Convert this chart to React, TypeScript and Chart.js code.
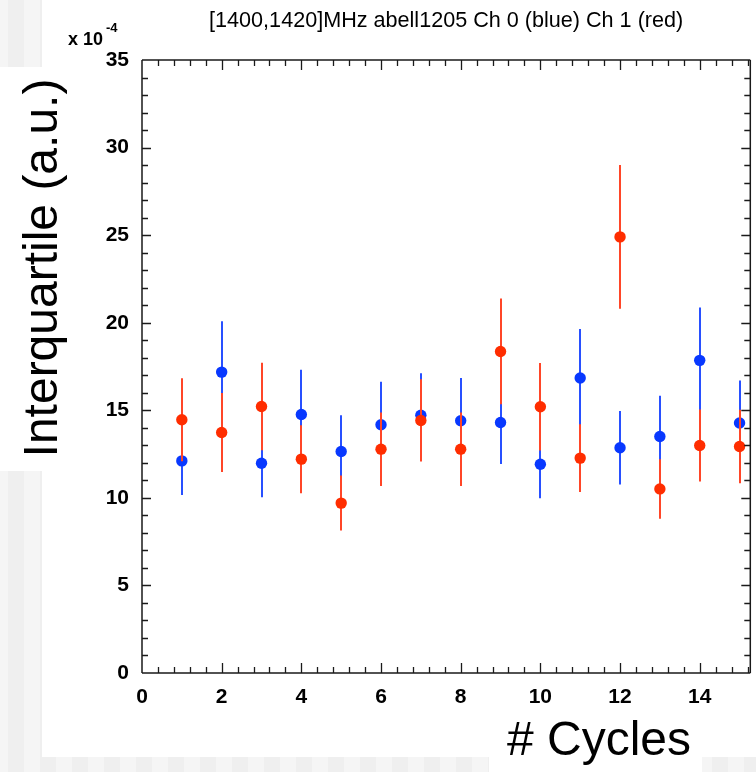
import React, { useEffect, useRef } from "react";
import { Chart, registerables } from "chart.js";

Chart.register(...registerables);

// ---------------- data ----------------
const TITLE = "[1400,1420]MHz abell1205 Ch 0 (blue) Ch 1 (red)";
const X_LABEL = "# Cycles";
const Y_LABEL = "Interquartile (a.u.)";
const Y_EXPONENT_BASE = "x 10";
const Y_EXPONENT_POWER = "-4";

const cycles = [1, 2, 3, 4, 5, 6, 7, 8, 9, 10, 11, 12, 13, 14, 15];

// Ch 0 (blue), units of 1e-4
const ch0Values = [12.11, 17.18, 11.98, 14.76, 12.65, 14.17, 14.72, 14.4, 14.3, 11.92, 16.84, 12.86, 13.5, 17.85, 14.27];
const ch0Errors = [1.94, 2.9, 1.94, 2.55, 2.07, 2.46, 2.4, 2.44, 2.36, 1.94, 2.8, 2.1, 2.33, 3.02, 2.43];

// Ch 1 (red), units of 1e-4
const ch1Values = [14.46, 13.73, 15.22, 12.21, 9.7, 12.78, 14.42, 12.78, 18.36, 15.2, 12.27, 24.9, 10.51, 12.99, 12.93];
const ch1Errors = [2.37, 2.25, 2.5, 1.94, 1.57, 2.1, 2.35, 2.1, 3.02, 2.5, 1.93, 4.1, 1.7, 2.05, 2.1];

const X_MIN = 0;
const X_MAX = 15.27;
const Y_MIN = 0;
const Y_MAX = 35;
const X_MAJOR = 2;
const X_MINOR = 0.4;
const Y_MAJOR = 5;
const Y_MINOR = 1;

const BLUE = "rgb(8,56,255)";
const BLUE_BAR = "rgb(40,80,255)";
const RED = "rgb(255,45,0)";
const RED_BAR = "rgb(255,70,40)";

const FONT = "'Liberation Sans', Arial, Helvetica, sans-serif";

const decorPlugin = {
  id: "decor",
  beforeDraw(chart: any) {
    const ctx = chart.ctx as CanvasRenderingContext2D;
    const W = chart.width;
    const H = chart.height;
    ctx.save();
    ctx.fillStyle = "#ffffff";
    ctx.fillRect(0, 0, W, H);
    const regions = [
      [0, 0, 42, 67],
      [0, 471, 42, H - 471],
      [0, 757, 489, H - 757],
      [702, 757, W - 702, H - 757],
    ];
    for (const [rx, ry, rw, rh] of regions) {
      for (let x = rx; x < rx + rw; x++) {
        const band = Math.floor((x + 8) / 16) % 2;
        ctx.fillStyle = band ? "#efefef" : "#f5f5f5";
        ctx.fillRect(x, ry, 1, rh);
      }
    }
    ctx.restore();
  },
  beforeDatasetDraw(chart: any, args: any) {
    const ds = chart.data.datasets[args.index];
    const errs: number[] = ds.errors;
    if (!errs) return;
    const xs = chart.scales.x;
    const ys = chart.scales.y;
    const ctx = chart.ctx as CanvasRenderingContext2D;
    ctx.save();
    ctx.strokeStyle = ds.barColor;
    ctx.lineWidth = 2;
    ds.data.forEach((p: any, i: number) => {
      const px = Math.round(xs.getPixelForValue(p.x));
      const y1 = ys.getPixelForValue(p.y + errs[i]);
      const y2 = ys.getPixelForValue(p.y - errs[i]);
      ctx.beginPath();
      ctx.moveTo(px, y1);
      ctx.lineTo(px, y2);
      ctx.stroke();
    });
    ctx.restore();
  },
  afterDatasetsDraw(chart: any) {
    const ctx = chart.ctx as CanvasRenderingContext2D;
    const { left, right, top, bottom } = chart.chartArea;
    const xs = chart.scales.x;
    const ys = chart.scales.y;
    ctx.save();
    ctx.strokeStyle = "#1a1a1a";
    ctx.lineWidth = 1.5;
    ctx.beginPath();
    ctx.moveTo(left, top);
    ctx.lineTo(right, top);
    ctx.moveTo(left, top);
    ctx.lineTo(left, bottom);
    ctx.moveTo(left, bottom);
    ctx.lineTo(right, bottom);
    ctx.moveTo(right, top);
    ctx.lineTo(right, bottom);
    ctx.stroke();

    ctx.lineWidth = 1.3;
    ctx.beginPath();
    // x ticks
    const nx = Math.floor((X_MAX - X_MIN) / X_MINOR + 1e-6);
    for (let k = 1; k <= nx; k++) {
      const v = X_MIN + k * X_MINOR;
      const major = Math.abs(v / X_MAJOR - Math.round(v / X_MAJOR)) < 1e-6;
      const len = major ? 10 : 6;
      const px = Math.round(xs.getPixelForValue(v)) + 0.5;
      ctx.moveTo(px, bottom);
      ctx.lineTo(px, bottom - len);
      ctx.moveTo(px, top);
      ctx.lineTo(px, top + len);
    }
    // y ticks
    const ny = Math.round((Y_MAX - Y_MIN) / Y_MINOR);
    for (let k = 1; k < ny; k++) {
      const v = Y_MIN + k * Y_MINOR;
      const major = k % Math.round(Y_MAJOR / Y_MINOR) === 0;
      const len = major ? 9 : 6;
      const py = Math.round(ys.getPixelForValue(v)) + 0.5;
      ctx.moveTo(left, py);
      ctx.lineTo(left + len, py);
      ctx.moveTo(right, py);
      ctx.lineTo(right - len, py);
    }
    ctx.stroke();
    ctx.restore();
  },
  afterDraw(chart: any) {
    const ctx = chart.ctx as CanvasRenderingContext2D;
    const { left, right } = chart.chartArea;
    ctx.save();
    ctx.fillStyle = "#000";
    // title
    ctx.font = `21.6px ${FONT}`;
    ctx.textAlign = "center";
    ctx.textBaseline = "alphabetic";
    ctx.fillText(TITLE, (left + right) / 2, 27);
    // exponent
    ctx.textAlign = "left";
    ctx.font = `bold 18px ${FONT}`;
    ctx.fillText(Y_EXPONENT_BASE, 68, 45);
    const w = ctx.measureText(Y_EXPONENT_BASE).width;
    ctx.font = `bold 13px ${FONT}`;
    ctx.fillText(Y_EXPONENT_POWER, 68 + w + 3, 32);
    // y label
    ctx.save();
    ctx.translate(57, 268);
    ctx.rotate(-Math.PI / 2);
    ctx.font = `48px ${FONT}`;
    ctx.textAlign = "center";
    ctx.fillText(Y_LABEL, 0, 0);
    ctx.restore();
    // x label
    ctx.font = `48px ${FONT}`;
    ctx.textAlign = "left";
    ctx.fillText(X_LABEL, 507, 755);
    ctx.restore();
  },
};

export default function App() {
  const canvasRef = useRef<HTMLCanvasElement | null>(null);

  useEffect(() => {
    const canvas = canvasRef.current;
    if (!canvas) return;
    const chart = new Chart(canvas, {
      type: "scatter",
      data: {
        datasets: [
          {
            label: "Ch 0 (blue)",
            data: cycles.map((c, i) => ({ x: c, y: ch0Values[i] })),
            errors: ch0Errors,
            barColor: BLUE_BAR,
            backgroundColor: BLUE,
            borderColor: BLUE,
            pointRadius: 5.7,
            pointBorderWidth: 0,
            pointHoverRadius: 5.7,
            order: 1,
          } as any,
          {
            label: "Ch 1 (red)",
            data: cycles.map((c, i) => ({ x: c, y: ch1Values[i] })),
            errors: ch1Errors,
            barColor: RED_BAR,
            backgroundColor: RED,
            borderColor: RED,
            pointRadius: 5.7,
            pointBorderWidth: 0,
            pointHoverRadius: 5.7,
            order: 0,
          } as any,
        ],
      },
      options: {
        responsive: false,
        animation: false,
        devicePixelRatio: 1,
        events: [],
        layout: { padding: { left: 0, right: 0, top: 60, bottom: 0 } },
        plugins: {
          legend: { display: false },
          title: { display: false },
          tooltip: { enabled: false },
        },
        scales: {
          x: {
            type: "linear",
            min: X_MIN,
            max: X_MAX,
            grid: { display: false, drawTicks: false },
            border: { display: false },
            ticks: {
              stepSize: X_MAJOR,
              includeBounds: false,
              padding: 12,
              color: "#000",
              font: { family: FONT, size: 21, weight: "bold" },
              maxRotation: 0,
              autoSkip: false,
              callback: (v: any) => String(v),
            },
            afterFit: (s: any) => {
              s.height = 99;
            },
          },
          y: {
            type: "linear",
            min: Y_MIN,
            max: Y_MAX,
            grid: { display: false, drawTicks: false },
            border: { display: false },
            ticks: {
              stepSize: Y_MAJOR,
              padding: 13,
              color: "#000",
              font: { family: FONT, size: 21, weight: "bold" },
              autoSkip: false,
              callback: (v: any) => String(v),
            },
            afterFit: (s: any) => {
              s.width = 142;
            },
          },
        },
      } as any,
      plugins: [decorPlugin],
    });
    return () => chart.destroy();
  }, []);

  return (
    <div style={{ position: "absolute", left: 0, top: 0, width: 756, height: 772 }}>
      <canvas ref={canvasRef} width={756} height={772} style={{ display: "block", width: 756, height: 772 }} />
    </div>
  );
}
